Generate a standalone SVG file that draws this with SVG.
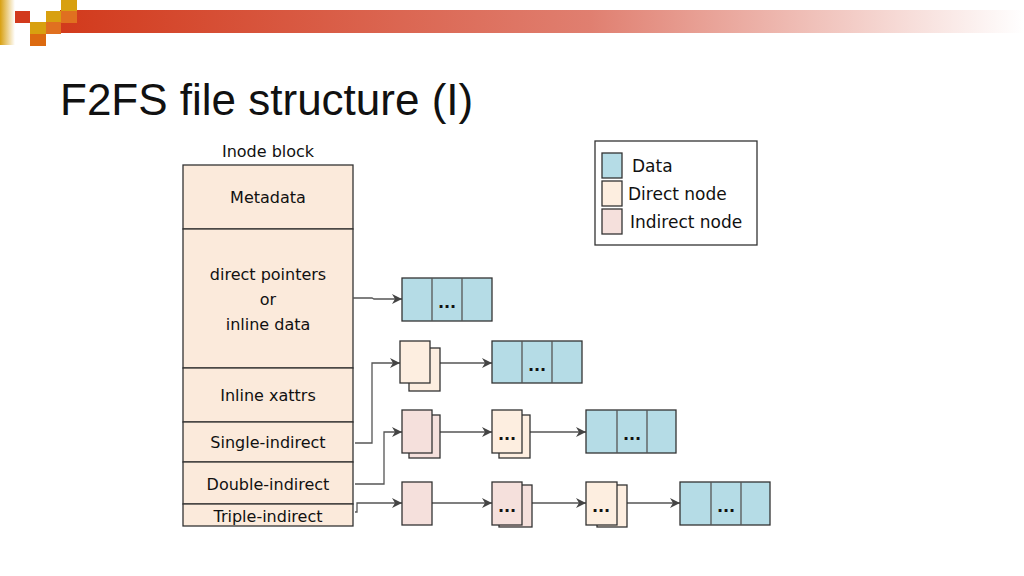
<svg xmlns="http://www.w3.org/2000/svg" width="1024" height="576" viewBox="0 0 1024 576">
<defs>
<linearGradient id="bar" x1="0" x2="1" y1="0" y2="0"><stop offset="0" stop-color="#d23a1c"/><stop offset="0.55" stop-color="#e07f70"/><stop offset="1" stop-color="#ffffff"/></linearGradient>
<linearGradient id="lb" x1="0" x2="1"><stop offset="0" stop-color="#d8a010"/><stop offset="1" stop-color="#fff"/></linearGradient>
<marker id="ar" viewBox="0 0 10 10" refX="10" refY="5" markerWidth="10" markerHeight="10" markerUnits="userSpaceOnUse" orient="auto"><path d="M0,0 L10,5 L0,10 L3,5 Z" fill="#444"/></marker>
</defs>
<style>
text{font-family:"DejaVu Sans",sans-serif;fill:#111}
.ib{fill:#fbeadb;stroke:#333;stroke-width:1.3}
.d{fill:#b5dce6;stroke:#333;stroke-width:1.3}
.dn{fill:#fdeee0;stroke:#333;stroke-width:1.3}
.in{fill:#f5e0dc;stroke:#333;stroke-width:1.3}
.c{fill:none;stroke:#555;stroke-width:1.3}
.l{font-size:16px;text-anchor:middle}
.dots{font-size:16px;text-anchor:middle;font-weight:bold}
</style>
<rect x="60" y="10" width="964" height="23" fill="url(#bar)"/>
<rect x="0" y="0" width="15" height="45" fill="url(#lb)"/>
<rect x="15" y="11" width="15" height="12" fill="#d23a1c"/>
<rect x="30" y="22" width="16" height="12" fill="#d8a010"/>
<rect x="30" y="34" width="16" height="12" fill="#dc6a10"/>
<rect x="46" y="11" width="15" height="12" fill="#d8a010"/>
<rect x="46" y="22" width="15" height="12" fill="#e07020"/>
<rect x="61" y="0" width="16" height="11" fill="#d8a010"/>
<rect x="61" y="11" width="16" height="12" fill="#e07020"/>
<text x="60" y="115" style="font-family:'Liberation Sans',Arial,sans-serif;font-size:44px;fill:#111">F2FS file structure (I)</text>

<g id="inode">
<text x="268" y="157" class="l">Inode block</text>
<rect class="ib" x="183" y="165" width="170" height="64"/>
<text x="268" y="203" class="l">Metadata</text>
<rect class="ib" x="183" y="229" width="170" height="139"/>
<text x="268" y="280" class="l">direct pointers</text>
<text x="268" y="305" class="l">or</text>
<text x="268" y="330" class="l">inline data</text>
<rect class="ib" x="183" y="368" width="170" height="54"/>
<text x="268" y="401" class="l">Inline xattrs</text>
<rect class="ib" x="183" y="422" width="170" height="40"/>
<text x="268" y="448" class="l">Single-indirect</text>
<rect class="ib" x="183" y="462" width="170" height="42"/>
<text x="268" y="490" class="l">Double-indirect</text>
<rect class="ib" x="183" y="504" width="170" height="22"/>
<text x="268" y="522" class="l">Triple-indirect</text>
</g>

<g id="legend">
<rect x="595" y="141" width="162" height="104" fill="#fff" stroke="#333" stroke-width="1.3"/>
<rect class="d" x="602" y="153" width="20" height="25"/>
<text x="632" y="172" style="font-size:17px">Data</text>
<rect class="dn" x="602" y="181" width="20" height="25"/>
<text x="628" y="200" style="font-size:17px">Direct node</text>
<rect class="in" x="602" y="209" width="20" height="25"/>
<text x="630" y="228" style="font-size:17px">Indirect node</text>
</g>

<g id="connectors">
<path class="c" d="M353,298 H372 L374,299 H402" marker-end="url(#ar)"/>
<path class="c" d="M355,443 H372 V363 H400" marker-end="url(#ar)"/>
<path class="c" d="M355,484 H384 V432 H402" marker-end="url(#ar)"/>
<path class="c" d="M355,512 H357 V503 H402" marker-end="url(#ar)"/>
<path class="c" d="M440,363 H492" marker-end="url(#ar)"/>
<path class="c" d="M440,432 H492" marker-end="url(#ar)"/>
<path class="c" d="M530,432 H586" marker-end="url(#ar)"/>
<path class="c" d="M432,503 H492" marker-end="url(#ar)"/>
<path class="c" d="M532,503 H586" marker-end="url(#ar)"/>
<path class="c" d="M627,503 H680" marker-end="url(#ar)"/>
</g>

<g id="data0"><rect class="d" x="402" y="278" width="90" height="43"/><line class="c" x1="432" y1="278" x2="432" y2="321"/><line class="c" x1="462" y1="278" x2="462" y2="321"/><text x="447" y="308" class="dots">...</text></g>
<g id="dn1"><rect class="dn" x="409" y="348" width="31" height="43"/><rect class="dn" x="400" y="341" width="30" height="42"/></g>
<g id="data1"><rect class="d" x="492" y="341" width="90" height="42"/><line class="c" x1="522" y1="341" x2="522" y2="383"/><line class="c" x1="552" y1="341" x2="552" y2="383"/><text x="537" y="371" class="dots">...</text></g>
<g id="in2"><rect class="in" x="409" y="415" width="31" height="43"/><rect class="in" x="402" y="410" width="30" height="43"/></g>
<g id="dn2"><rect class="dn" x="499" y="415" width="31" height="43"/><rect class="dn" x="492" y="410" width="30" height="43"/><text x="507" y="440" class="dots">...</text></g>
<g id="data2"><rect class="d" x="586" y="410" width="90" height="43"/><line class="c" x1="617" y1="410" x2="617" y2="453"/><line class="c" x1="647" y1="410" x2="647" y2="453"/><text x="632" y="440" class="dots">...</text></g>
<g id="in3"><rect class="in" x="402" y="482" width="30" height="43"/></g>
<g id="in3b"><rect class="in" x="499" y="485" width="33" height="42"/><rect class="in" x="492" y="482" width="30" height="43"/><text x="507" y="512" class="dots">...</text></g>
<g id="dn3"><rect class="dn" x="597" y="485" width="30" height="42"/><rect class="dn" x="586" y="482" width="31" height="43"/><text x="601" y="512" class="dots">...</text></g>
<g id="data3"><rect class="d" x="680" y="482" width="90" height="43"/><line class="c" x1="711" y1="482" x2="711" y2="525"/><line class="c" x1="741" y1="482" x2="741" y2="525"/><text x="726" y="512" class="dots">...</text></g>
</svg>
